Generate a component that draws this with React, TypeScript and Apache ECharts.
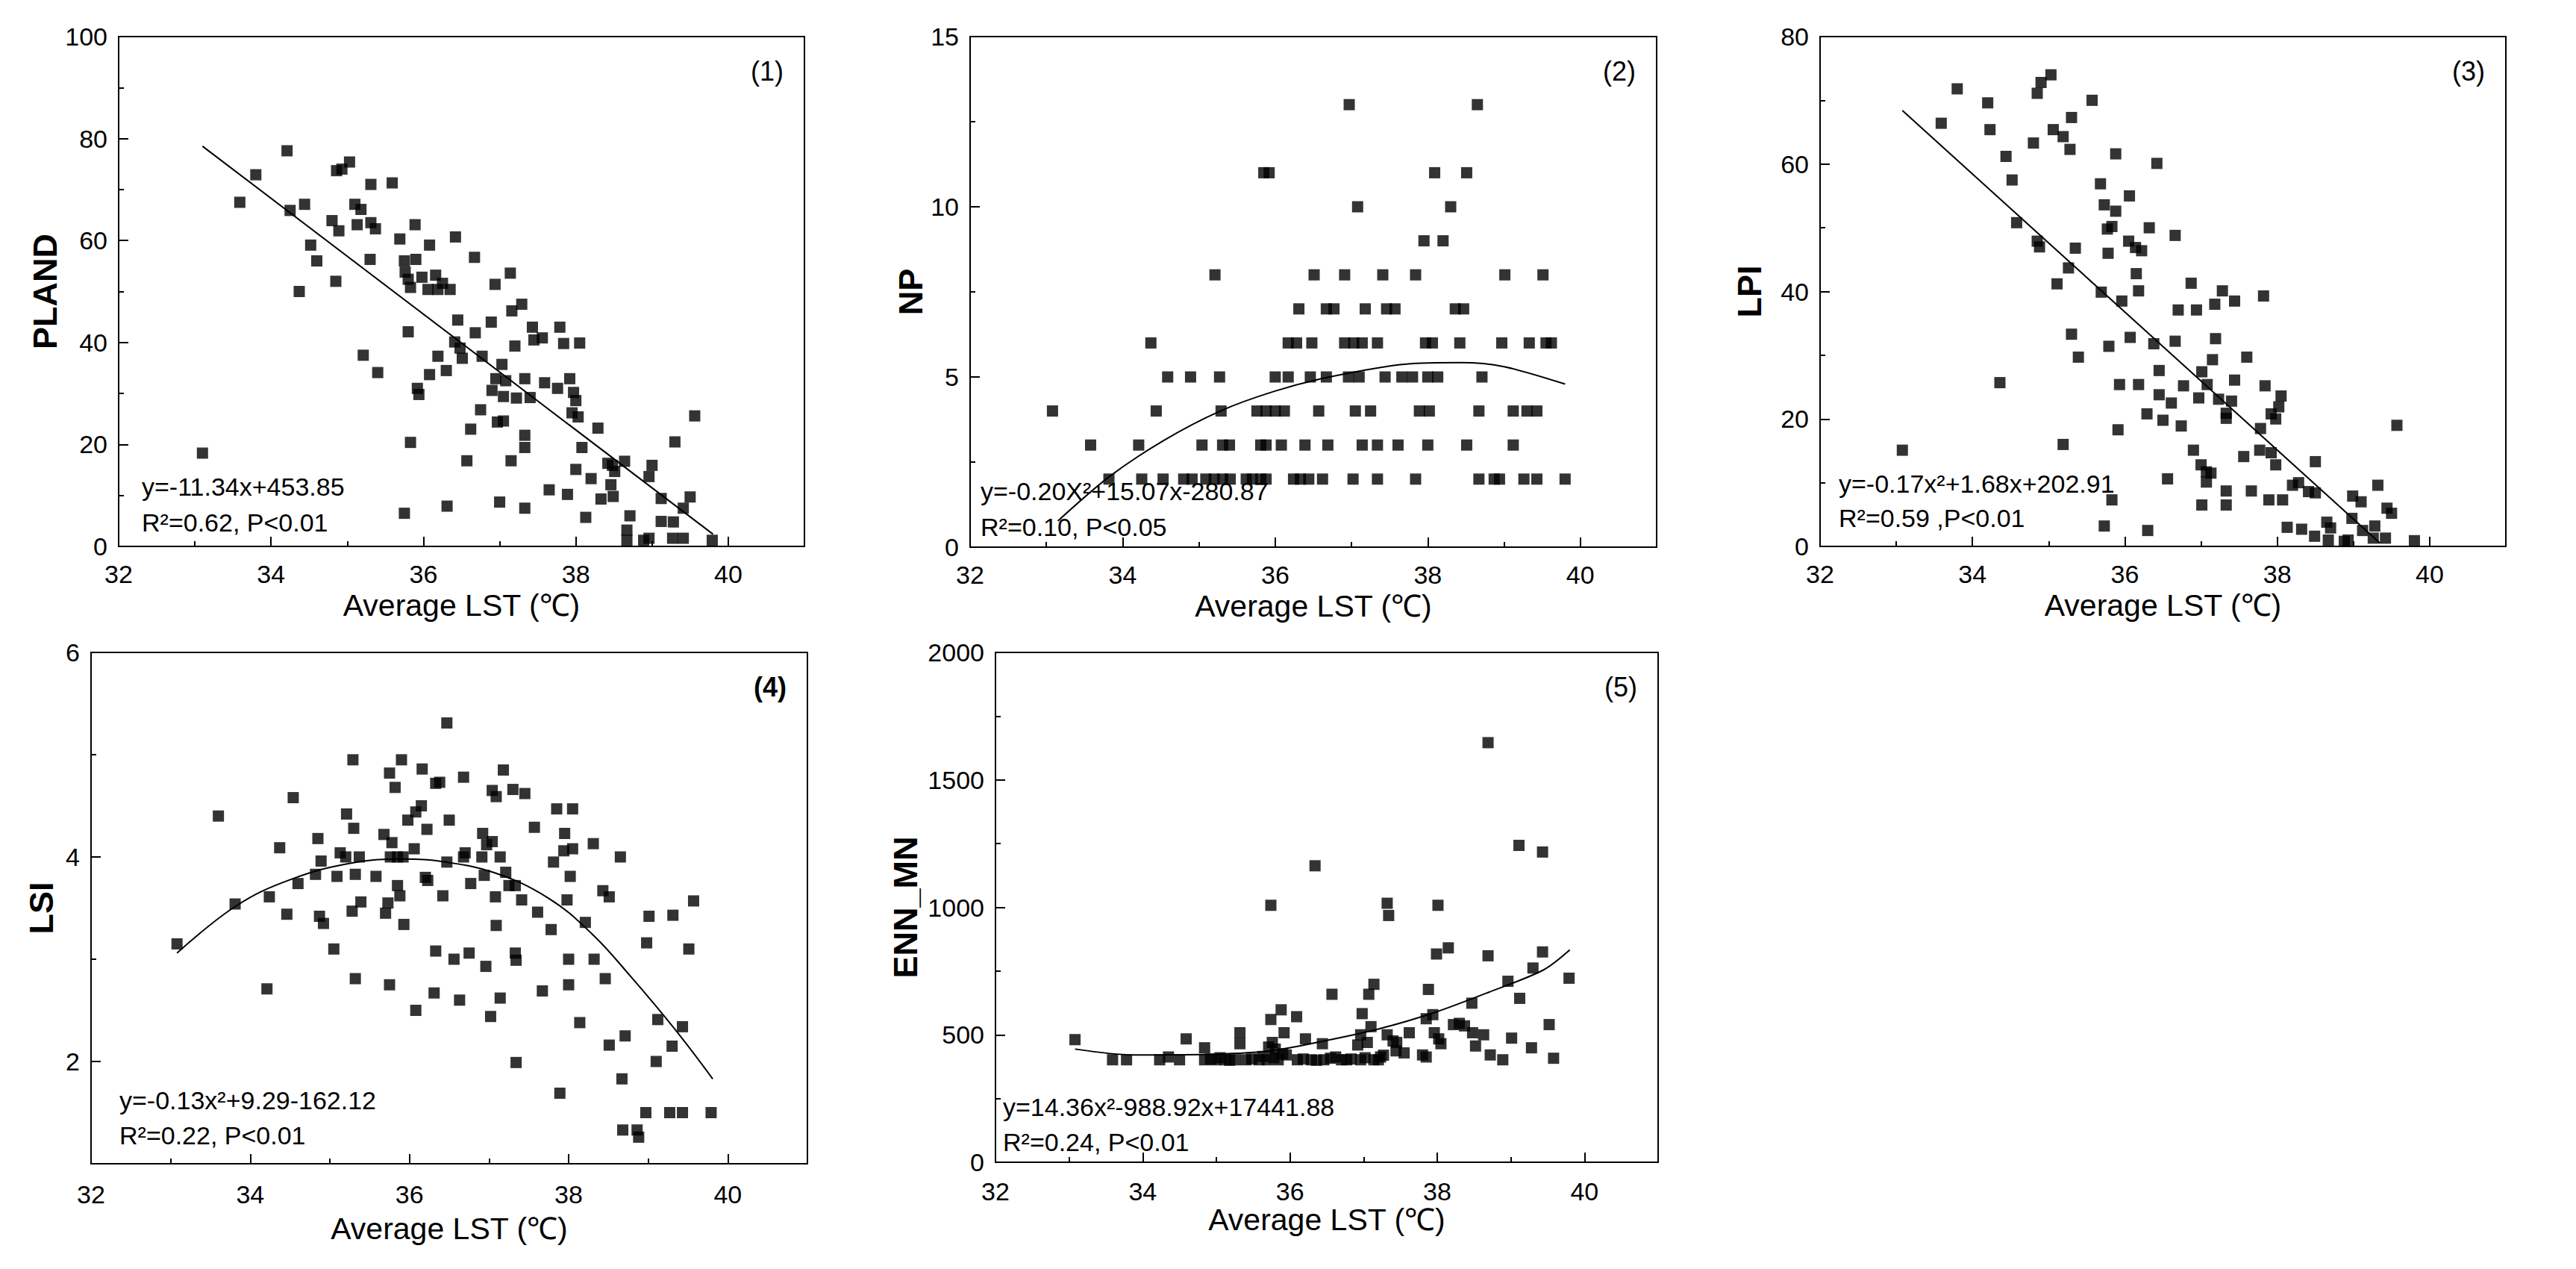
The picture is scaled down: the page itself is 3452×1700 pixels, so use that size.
import React, { useEffect, useRef } from "react";
import * as echarts from "echarts";

const FONT = "'Liberation Sans', Arial, sans-serif";

// ---------- data ----------
const xAxisName = "Average LST (℃)";

const plandPts: [number, number][] = [
  [33.10, 18.3], [33.59, 67.5], [33.80, 72.9], [34.21, 77.6], [34.25, 65.9], [34.44, 67.1], [34.37, 50.0],
  [34.52, 59.1], [34.60, 56.0], [34.80, 63.9], [34.85, 52.0], [34.89, 61.9], [34.86, 73.7], [34.93, 74.0],
  [35.03, 75.4], [35.10, 67.1], [35.18, 66.1], [35.13, 63.1], [35.31, 71.0], [35.31, 63.5], [35.37, 62.3],
  [35.30, 56.3], [35.21, 37.5], [35.40, 34.1], [35.59, 71.3], [35.69, 60.3], [35.75, 56.0], [35.76, 53.8],
  [35.80, 52.4], [35.83, 50.8], [35.89, 63.1], [35.90, 56.3], [35.98, 52.8], [35.80, 42.1], [35.92, 31.0],
  [35.94, 29.8], [35.83, 20.4], [35.75, 6.5], [36.08, 59.1], [36.06, 50.4], [36.16, 53.2], [36.19, 50.4],
  [36.25, 51.6], [36.35, 50.4], [36.08, 33.7], [36.19, 37.3], [36.30, 34.5], [36.42, 60.7], [36.45, 44.4],
  [36.41, 40.1], [36.48, 38.9], [36.51, 36.9], [36.67, 56.7], [36.68, 41.9], [36.77, 37.3], [36.57, 16.8],
  [36.62, 23.0], [36.75, 26.8], [36.31, 7.9], [36.89, 44.0], [36.94, 51.4], [37.03, 35.7], [36.95, 32.9],
  [36.90, 30.6], [37.08, 32.5], [37.05, 29.4], [37.05, 24.6], [36.97, 24.4], [37.00, 8.7], [37.14, 53.6],
  [37.16, 46.2], [37.29, 47.5], [37.20, 39.3], [37.33, 32.9], [37.22, 29.1], [37.40, 29.2], [37.33, 21.8],
  [37.33, 19.4], [37.15, 16.8], [37.33, 7.5], [37.43, 43.0], [37.45, 40.5], [37.56, 40.9], [37.59, 32.1],
  [37.65, 11.1], [37.79, 43.0], [37.84, 39.8], [37.76, 31.0], [37.92, 32.9], [37.97, 30.2], [38.00, 28.6],
  [37.95, 26.2], [38.03, 25.4], [38.05, 39.9], [37.89, 10.2], [38.00, 15.1], [38.08, 19.4], [38.13, 5.7],
  [38.20, 13.3], [38.29, 23.2], [38.33, 9.3], [38.42, 16.3], [38.48, 15.9], [38.51, 14.7], [38.46, 12.1],
  [38.49, 9.8], [38.64, 16.7], [38.71, 6.0], [38.67, 3.2], [38.67, 1.2], [38.89, 1.2], [38.96, 1.6],
  [39.00, 15.9], [38.96, 13.7], [39.12, 9.4], [39.12, 4.9], [39.28, 4.8], [39.30, 20.5], [39.27, 1.6],
  [39.41, 1.6], [39.41, 7.5], [39.50, 9.7], [39.56, 25.6], [39.79, 1.2],
];
const plandFit: [number, number][] = [[33.1, 78.5], [39.8, 2.4]];

const npPts: [number, number][] = [
  [36.97, 13], [38.65, 13],
  [35.85, 11], [35.92, 11], [38.09, 11], [38.51, 11],
  [37.08, 10], [38.30, 10],
  [37.95, 9], [38.20, 9],
  [35.21, 8], [36.51, 8], [36.91, 8], [37.41, 8], [37.84, 8], [39.01, 8], [39.51, 8],
  [36.31, 7], [36.67, 7], [36.77, 7], [37.18, 7], [37.46, 7], [37.57, 7], [38.36, 7], [38.47, 7],
  [34.37, 6], [36.17, 6], [36.28, 6], [36.48, 6], [36.91, 6], [37.03, 6], [37.14, 6], [37.34, 6],
  [37.97, 6], [38.06, 6], [38.42, 6], [38.97, 6], [39.33, 6], [39.55, 6], [39.62, 6],
  [34.59, 5], [34.89, 5], [35.27, 5], [36.00, 5], [36.17, 5], [36.46, 5], [36.67, 5], [36.96, 5],
  [37.10, 5], [37.44, 5], [37.66, 5], [37.80, 5], [38.00, 5], [38.13, 5], [38.71, 5],
  [33.08, 4], [34.44, 4], [35.29, 4], [35.76, 4], [35.88, 4], [36.00, 4], [36.12, 4], [36.57, 4],
  [37.05, 4], [37.25, 4], [37.89, 4], [38.02, 4], [38.67, 4], [39.12, 4], [39.30, 4], [39.43, 4],
  [33.58, 3], [34.21, 3], [35.04, 3], [35.31, 3], [35.40, 3], [35.81, 3], [35.88, 3], [36.08, 3],
  [36.39, 3], [36.69, 3], [37.14, 3], [37.34, 3], [37.61, 3], [38.00, 3], [38.51, 3], [39.12, 3],
  [33.82, 2], [34.25, 2], [34.53, 2], [34.80, 2], [34.91, 2], [35.09, 2], [35.20, 2], [35.31, 2],
  [35.41, 2], [35.62, 2], [35.70, 2], [35.81, 2], [35.88, 2], [36.24, 2], [36.33, 2], [36.44, 2],
  [36.62, 2], [37.02, 2], [37.34, 2], [37.84, 2], [38.67, 2], [38.87, 2], [38.94, 2], [39.26, 2],
  [39.43, 2], [39.80, 2],
];
const npFit: [number, number][] = [
  [33.15, 0.77], [33.83, 2.08], [34.55, 3.15], [35.27, 3.99], [35.99, 4.58], [36.71, 5.0],
  [37.72, 5.38], [38.43, 5.42], [39.0, 5.3], [39.8, 4.79],
];

const lpiPts: [number, number][] = [
  [33.08, 15.1], [33.59, 66.4], [33.80, 71.8], [34.20, 69.6], [34.23, 65.4], [34.36, 25.7], [34.44, 61.2],
  [34.52, 57.5], [34.58, 50.8], [34.80, 63.3], [34.85, 71.1], [34.90, 72.8], [35.03, 74.0], [34.85, 47.9],
  [34.88, 47.0], [35.06, 65.4], [35.19, 64.3], [35.28, 62.3], [35.30, 67.3], [35.11, 41.2], [35.26, 43.7],
  [35.35, 46.8], [35.30, 33.3], [35.39, 29.7], [35.19, 16.0], [35.57, 70.0], [35.68, 56.9], [35.73, 53.6],
  [35.77, 49.8], [35.83, 50.2], [35.88, 52.6], [35.88, 61.6], [35.69, 39.9], [35.78, 46.0], [35.96, 38.5],
  [35.79, 31.4], [35.93, 25.4], [35.91, 18.3], [35.83, 7.3], [35.73, 3.2], [36.06, 55.0], [36.05, 47.9],
  [36.14, 46.9], [36.22, 46.4], [36.15, 42.8], [36.18, 40.1], [36.07, 32.8], [36.32, 50.0], [36.42, 60.1],
  [36.38, 31.8], [36.18, 25.4], [36.45, 27.6], [36.45, 23.8], [36.29, 20.8], [36.50, 19.8], [36.61, 22.5],
  [36.56, 10.6], [36.30, 2.5], [36.66, 48.8], [36.66, 32.2], [36.70, 37.1], [36.77, 25.2], [36.74, 18.9],
  [36.87, 41.3], [36.94, 37.1], [37.01, 27.4], [37.08, 25.4], [36.97, 23.3], [37.15, 29.3], [37.19, 32.6],
  [37.18, 38.0], [37.28, 40.1], [37.44, 38.5], [37.23, 23.1], [37.33, 20.9], [37.40, 22.8], [37.44, 26.1],
  [37.33, 20.1], [36.90, 15.1], [37.00, 12.8], [37.07, 11.7], [37.13, 11.5], [37.07, 10.1], [37.01, 6.5],
  [37.33, 8.7], [37.33, 6.5], [37.60, 29.7], [37.82, 39.3], [37.84, 25.2], [37.78, 18.5], [37.77, 15.1],
  [37.56, 14.1], [37.66, 8.7], [37.89, 7.3], [37.92, 20.8], [37.98, 20.0], [38.02, 21.9], [38.05, 23.6],
  [37.92, 14.7], [37.98, 12.8], [38.07, 7.3], [38.13, 3.0], [38.20, 9.6], [38.28, 10.0], [38.32, 2.7],
  [38.50, 13.3], [38.41, 8.6], [38.50, 8.4], [38.49, 1.6], [38.65, 3.8], [38.70, 2.9], [38.67, 1.0],
  [38.88, 0.8], [38.93, 1.0], [38.98, 4.4], [38.99, 7.9], [39.10, 7.0], [39.12, 2.5], [39.32, 9.6],
  [39.28, 3.2], [39.26, 1.3], [39.42, 1.3], [39.44, 6.0], [39.50, 5.2], [39.57, 19.0], [39.80, 0.9],
];
const lpiFit: [number, number][] = [[33.08, 68.4], [39.35, 0.5]];

const lsiPts: [number, number][] = [
  [33.08, 3.15], [33.60, 4.40], [33.81, 3.54], [34.24, 3.61], [34.21, 2.71], [34.37, 4.09], [34.46, 3.44],
  [34.54, 4.58], [34.60, 3.74], [34.82, 3.83], [34.85, 4.18], [34.89, 3.96], [34.87, 3.42], [34.92, 3.35],
  [35.05, 3.10], [35.09, 3.81], [35.13, 4.04], [35.21, 4.42], [35.20, 4.00], [35.29, 4.95], [35.30, 4.28],
  [35.32, 3.83], [35.37, 4.00], [35.39, 3.56], [35.28, 3.47], [35.32, 2.81], [35.58, 3.81], [35.68, 4.22],
  [35.78, 4.14], [35.75, 4.82], [35.82, 4.68], [35.90, 4.95], [35.76, 4.00], [35.85, 4.00], [35.92, 4.00],
  [35.85, 3.72], [35.88, 3.62], [35.73, 3.55], [35.70, 3.45], [35.93, 3.34], [35.75, 2.75], [35.98, 4.36],
  [36.06, 4.08], [36.08, 4.44], [36.15, 4.50], [36.16, 4.86], [36.22, 4.27], [36.20, 3.80], [36.23, 3.77],
  [36.33, 4.72], [36.38, 4.73], [36.50, 4.36], [36.47, 3.95], [36.42, 3.62], [36.33, 3.08], [36.08, 2.50],
  [36.31, 2.67], [36.47, 5.31], [36.68, 4.78], [36.68, 4.00], [36.70, 4.04], [36.77, 3.74], [36.56, 3.00],
  [36.75, 3.06], [36.63, 2.60], [36.92, 4.23], [36.91, 4.00], [36.94, 3.82], [36.97, 4.12], [37.04, 4.65],
  [37.09, 4.59], [37.04, 4.15], [37.08, 3.61], [37.09, 3.33], [36.96, 2.93], [37.02, 2.44], [37.14, 4.00],
  [37.18, 4.85], [37.21, 3.85], [37.25, 3.72], [37.33, 3.72], [37.30, 4.66], [37.45, 4.62], [37.33, 3.06],
  [37.34, 2.99], [37.14, 2.62], [37.34, 1.99], [37.41, 3.58], [37.57, 4.29], [37.61, 3.46], [37.78, 3.29],
  [37.67, 2.69], [37.81, 3.95], [37.85, 4.47], [37.95, 4.23], [37.94, 4.06], [38.05, 4.08], [38.05, 4.47],
  [38.02, 3.81], [37.98, 3.58], [38.00, 3.00], [38.00, 2.75], [37.89, 1.69], [38.14, 2.38], [38.21, 3.36],
  [38.31, 4.13], [38.32, 3.00], [38.43, 3.67], [38.51, 3.61], [38.46, 2.81], [38.51, 2.16], [38.65, 4.00],
  [38.71, 2.25], [38.67, 1.83], [38.68, 1.33], [38.86, 1.33], [38.88, 1.26], [38.97, 1.50], [38.98, 3.16],
  [39.01, 3.42], [39.12, 2.41], [39.10, 2.00], [39.31, 3.43], [39.30, 2.15], [39.27, 1.50], [39.43, 2.34],
  [39.43, 1.50], [39.51, 3.10], [39.57, 3.57], [39.79, 1.50],
];
const lsiFit: [number, number][] = [
  [33.08, 3.06], [33.82, 3.52], [34.51, 3.78], [35.27, 3.94], [35.95, 3.98], [36.37, 3.96], [37.05, 3.85],
  [37.74, 3.60], [38.29, 3.25], [38.77, 2.84], [39.33, 2.32], [39.81, 1.83],
];

const ennPts: [number, number][] = [
  [33.08, 481], [33.59, 402], [33.78, 402], [34.23, 402], [34.35, 413], [34.50, 402], [34.59, 484],
  [34.84, 449], [34.84, 402], [34.99, 402], [35.12, 402], [35.25, 402], [35.32, 508], [35.32, 465],
  [35.40, 402], [35.58, 402], [35.69, 402], [35.71, 452], [35.74, 560], [35.80, 444], [35.74, 1008],
  [35.88, 598], [35.92, 508], [35.95, 421], [35.84, 402], [36.09, 571], [36.10, 402], [36.21, 484],
  [36.29, 402], [36.34, 1163], [36.44, 465], [36.46, 402], [36.57, 659], [36.62, 413], [36.70, 402],
  [36.77, 402], [36.92, 460], [36.96, 500], [36.98, 583], [36.96, 402], [37.07, 659], [37.10, 532],
  [37.14, 698], [37.14, 402], [37.23, 413], [37.32, 1016], [37.34, 968], [37.32, 500], [37.40, 476],
  [37.44, 437], [37.55, 429], [37.62, 508], [37.80, 421], [37.85, 413], [37.88, 678], [37.85, 563],
  [37.94, 579], [37.96, 508], [37.99, 817], [38.01, 1008], [38.02, 484], [38.05, 465], [38.15, 841],
  [38.22, 540], [38.37, 535], [38.47, 624], [38.48, 508], [38.52, 456], [38.63, 500], [38.69, 1646],
  [38.69, 810], [38.72, 421], [38.89, 402], [38.96, 710], [39.01, 487], [39.11, 1243], [39.12, 643],
  [39.28, 449], [39.30, 762], [39.43, 1217], [39.43, 825], [39.52, 540], [39.58, 408], [39.79, 722],
  [34.92, 405], [35.05, 410], [35.18, 400], [35.48, 405], [35.63, 415], [35.78, 410], [35.90, 425],
  [36.18, 405], [36.36, 400], [36.55, 408], [36.83, 405], [37.02, 410], [37.20, 402], [37.27, 420],
  [35.76, 470], [37.05, 470], [37.45, 470], [38.30, 545],
];
const ennFit: [number, number][] = [
  [33.08, 444], [33.87, 421], [34.99, 424], [35.73, 437], [36.47, 476], [37.22, 524], [37.96, 587],
  [38.70, 667], [39.44, 754], [39.8, 833],
];

// ---------- layout / style of each panel ----------
type Panel = {
  tag: string; yName: string; pts: [number, number][]; fit: [number, number][]; smooth: number;
  yMin: number; yMax: number; yMajor: number; yMinor: number; niceMajor?: boolean;
  grid: { left: number; top: number; width: number; height: number };
  eq: string; r2: string; eqX: number; eqY1: number; eqY2: number;
  yNameGap: number; xNameGap: number; xLabelMargin: number; tagBold?: boolean;
};

const panels: Panel[] = [
  {
    tag: "(1)", yName: "PLAND", pts: plandPts, fit: plandFit, smooth: 0,
    yMin: 0, yMax: 100, yMajor: 20, yMinor: 10,
    grid: { left: 159, top: 49, width: 919, height: 683 },
    eq: "y=-11.34x+453.85", r2: "R²=0.62, P<0.01", eqX: 190, eqY1: 652, eqY2: 700,
    yNameGap: 70, xNameGap: 58, xLabelMargin: 20,
  },
  {
    tag: "(2)", yName: "NP", pts: npPts, fit: npFit, smooth: 0.3,
    yMin: 0, yMax: 15, yMajor: 5, yMinor: 2.5,
    grid: { left: 1300, top: 49, width: 920, height: 684 },
    eq: "y=-0.20X²+15.07x-280.87", r2: "R²=0.10, P<0.05", eqX: 1314, eqY1: 658, eqY2: 706,
    yNameGap: 55, xNameGap: 58, xLabelMargin: 20,
  },
  {
    tag: "(3)", yName: "LPI", pts: lpiPts, fit: lpiFit, smooth: 0,
    yMin: 0, yMax: 80, yMajor: 20, yMinor: 10,
    grid: { left: 2439, top: 49, width: 919, height: 683 },
    eq: "y=-0.17x²+1.68x+202.91", r2: "R²=0.59 ,P<0.01", eqX: 2464, eqY1: 648, eqY2: 694,
    yNameGap: 72, xNameGap: 58, xLabelMargin: 20,
  },
  {
    tag: "(4)", yName: "LSI", pts: lsiPts, fit: lsiFit, smooth: 0.4,
    yMin: 1, yMax: 6, yMajor: 2, yMinor: 1, niceMajor: true,
    grid: { left: 122, top: 874, width: 960, height: 685 },
    eq: "y=-0.13x²+9.29-162.12", r2: "R²=0.22, P<0.01", eqX: 160, eqY1: 1474, eqY2: 1521,
    yNameGap: 44, xNameGap: 66, xLabelMargin: 24, tagBold: true,
  },
  {
    tag: "(5)", yName: "ENN_MN", pts: ennPts, fit: ennFit, smooth: 0.3,
    yMin: 0, yMax: 2000, yMajor: 500, yMinor: 250,
    grid: { left: 1334, top: 874, width: 888, height: 683 },
    eq: "y=14.36x²-988.92x+17441.88", r2: "R²=0.24, P<0.01", eqX: 1344, eqY1: 1483, eqY2: 1530,
    yNameGap: 98, xNameGap: 50, xLabelMargin: 22,
  },
];

function buildOption() {
  const grid: any[] = [];
  const xAxis: any[] = [];
  const yAxis: any[] = [];
  const series: any[] = [];
  const graphic: any[] = [];
  const tickLine = { color: "#000", width: 2 };
  const labelStyle = { color: "#000", fontSize: 34, fontFamily: FONT, formatter: (v: number) => String(v) };

  panels.forEach((p, i) => {
    grid.push({ ...p.grid, show: true, borderColor: "#000", borderWidth: 2, backgroundColor: "transparent", containLabel: false });
    const xi = xAxis.length;
    xAxis.push({
      gridIndex: i, type: "value", position: "bottom", min: 32, max: 41, interval: 2,
      axisLine: { show: true, lineStyle: tickLine },
      axisTick: { show: true, inside: true, length: 13, lineStyle: tickLine },
      axisLabel: { ...labelStyle, margin: p.xLabelMargin, showMaxLabel: false },
      splitLine: { show: false },
      name: xAxisName, nameLocation: "middle", nameGap: p.xNameGap,
      nameTextStyle: { color: "#000", fontSize: 41, fontFamily: FONT },
    });
    xAxis.push({
      gridIndex: i, type: "value", position: "bottom", min: 32, max: 41, interval: 1,
      axisLine: { show: false }, axisTick: { show: true, inside: true, length: 7, lineStyle: tickLine },
      axisLabel: { show: false }, splitLine: { show: false },
    });
    const yi = yAxis.length;
    const major: any = {
      gridIndex: i, type: "value", position: "left", min: p.yMin, max: p.yMax,
      axisLine: { show: true, lineStyle: tickLine },
      axisTick: { show: true, inside: true, length: 13, lineStyle: tickLine },
      axisLabel: { ...labelStyle, margin: 15 },
      splitLine: { show: false },
      name: p.yName, nameLocation: "middle", nameGap: p.yNameGap,
      nameTextStyle: { color: "#000", fontSize: 45, fontWeight: "bold", fontFamily: FONT },
    };
    if (p.niceMajor) {
      major.minInterval = p.yMajor;
      major.maxInterval = p.yMajor;
      major.axisLabel.showMinLabel = false;
    } else {
      major.interval = p.yMajor;
    }
    yAxis.push(major);
    yAxis.push({
      gridIndex: i, type: "value", position: "left", min: p.yMin, max: p.yMax, interval: p.yMinor,
      axisLine: { show: false }, axisTick: { show: true, inside: true, length: 7, lineStyle: tickLine },
      axisLabel: { show: false }, splitLine: { show: false },
    });

    series.push({
      type: "scatter", xAxisIndex: xi, yAxisIndex: yi, data: p.pts,
      symbol: "rect", symbolSize: 15, itemStyle: { color: "#000" }, silent: true,
    });
    series.push({
      type: "line", xAxisIndex: xi, yAxisIndex: yi, data: p.fit, smooth: p.smooth,
      showSymbol: false, symbol: "none", lineStyle: { color: "#000", width: 2 }, silent: true, z: 3,
    });

    const textBase = { fill: "#000", fontSize: 34, fontFamily: FONT, align: "left", verticalAlign: "middle", textAlign: "left", textVerticalAlign: "middle" };
    graphic.push({ type: "text", x: p.eqX, y: p.eqY1, style: { ...textBase, text: p.eq } });
    graphic.push({ type: "text", x: p.eqX, y: p.eqY2, style: { ...textBase, text: p.r2 } });
    graphic.push({
      type: "text", x: p.grid.left + p.grid.width - 28, y: p.grid.top + 46,
      style: { ...textBase, text: p.tag, fontSize: 36, fontWeight: p.tagBold ? "bold" : "normal", align: "right", textAlign: "right" },
    });
  });

  return {
    animation: false,
    backgroundColor: "#ffffff",
    textStyle: { fontFamily: FONT },
    grid, xAxis, yAxis, series, graphic,
  };
}

export default function App() {
  const ref = useRef<HTMLDivElement>(null);
  useEffect(() => {
    document.body.style.margin = "0";
    if (!ref.current) return;
    const chart = echarts.init(ref.current, undefined, { renderer: "svg" });
    chart.setOption(buildOption() as any);
    return () => chart.dispose();
  }, []);
  return (
    <div
      ref={ref}
      style={{ position: "fixed", left: 0, top: 0, width: 3452, height: 1700, background: "#fff" }}
    />
  );
}
